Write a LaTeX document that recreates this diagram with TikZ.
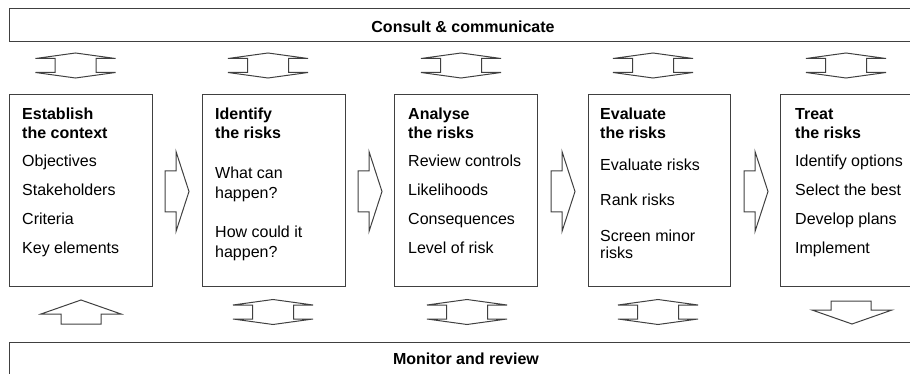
\documentclass[tikz,border=0pt]{standalone}
\usepackage{fontspec}
\setmainfont{Liberation Sans}
\begin{document}
\begin{tikzpicture}[x=1pt,y=-1pt,
  ln/.style={draw=black!75,line width=1pt},
  txt/.style={anchor=base west,inner sep=0pt,font=\fontsize{16}{19}\selectfont},
  hd/.style={txt,font=\fontsize{16}{19}\selectfont\bfseries},
  ttl/.style={anchor=base,inner sep=0pt,font=\fontsize{16}{19}\selectfont\bfseries},
  dblarrow/.pic={\draw[ln,line join=miter] (0,-12.5) -- (40,-7) -- (20.5,-7) -- (20.5,7) -- (40,7) -- (0,12.5) -- (-40,7) -- (-20.5,7) -- (-20.5,-7) -- (-40,-7) -- cycle;},
  rarrow/.pic={\draw[ln,line join=miter] (0,-20.5) -- (11,-20.5) -- (11,-40) -- (24,0) -- (11,40) -- (11,20.5) -- (0,20.5) -- cycle;}
]
\useasboundingbox (0,0) rectangle (910,374);
\clip (0,0) rectangle (910,374);
% bars
\draw[ln] (9,9) rectangle (930,42);
\node[ttl] (consult) at (463,32.2) {Consult \& communicate};
\draw[ln] (9,342) rectangle (930,400);
\node[ttl] (monitor) at (466,364.8) {Monitor and review};
% boxes
\draw[ln] (9,95) rectangle (152,286);
\draw[ln] (202,95) rectangle (345,286);
\draw[ln] (394,95) rectangle (537,286);
\draw[ln] (588,95) rectangle (730,286);
\draw[ln] (780,95) rectangle (930,286);
% box 1
\node[hd] (b1h1) at (22,119.2) {Establish};
\node[hd] (b1h2) at (22,138.2) {the context};
\node[txt] (b1a) at (22,166.5) {Objectives};
\node[txt] (b1b) at (22,195.5) {Stakeholders};
\node[txt] (b1c) at (22,224.5) {Criteria};
\node[txt] (b1d) at (22,253.5) {Key elements};
% box 2
\node[hd] (b2h1) at (215,119.2) {Identify};
\node[hd] (b2h2) at (215,138.2) {the risks};
\node[txt] (b2a) at (215,178.7) {What can};
\node[txt] (b2b) at (215,198.3) {happen?};
\node[txt] (b2c) at (215,237.5) {How could it};
\node[txt] (b2d) at (215,257.3) {happen?};
% box 3
\node[hd] (b3h1) at (408,119.2) {Analyse};
\node[hd] (b3h2) at (408,138.2) {the risks};
\node[txt] (b3a) at (408,166.5) {Review controls};
\node[txt] (b3b) at (408,195.5) {Likelihoods};
\node[txt] (b3c) at (408,224.5) {Consequences};
\node[txt] (b3d) at (408,253.5) {Level of risk};
% box 4
\node[hd] (b4h1) at (600,119.2) {Evaluate};
\node[hd] (b4h2) at (600,138.2) {the risks};
\node[txt] (b4a) at (600,170.5) {Evaluate risks};
\node[txt] (b4b) at (600,205.8) {Rank risks};
\node[txt] (b4c) at (600,241.7) {Screen minor};
\node[txt] (b4d) at (600,258.5) {risks};
% box 5
\node[hd] (b5h1) at (795,119.2) {Treat};
\node[hd] (b5h2) at (795,138.2) {the risks};
\node[txt] (b5a) at (795,166.5) {Identify options};
\node[txt] (b5b) at (795,195.5) {Select the best};
\node[txt] (b5c) at (795,224.5) {Develop plans};
\node[txt] (b5d) at (795,253.5) {Implement};
% right arrows
\pic at (165,191.5) {rarrow};
\pic at (358,191.5) {rarrow};
\pic at (551,191.5) {rarrow};
\pic at (744,191.5) {rarrow};
% top double arrows
\pic at (75.5,65.5) {dblarrow};
\pic at (268,65.5) {dblarrow};
\pic at (461,65.5) {dblarrow};
\pic at (653,65.5) {dblarrow};
\pic at (846,65.5) {dblarrow};
% bottom arrows
\draw[ln,line join=miter] (81,300) -- (121,314) -- (101,314) -- (101,324) -- (61,324) -- (61,314) -- (41,314) -- cycle;
\pic at (273,312) {dblarrow};
\pic at (467,312) {dblarrow};
\pic at (658,312) {dblarrow};
\draw[ln,line join=miter] (831,301) -- (871,301) -- (871,310) -- (892,310) -- (852,324) -- (812,310) -- (831,310) -- cycle;
\end{tikzpicture}
\end{document}
